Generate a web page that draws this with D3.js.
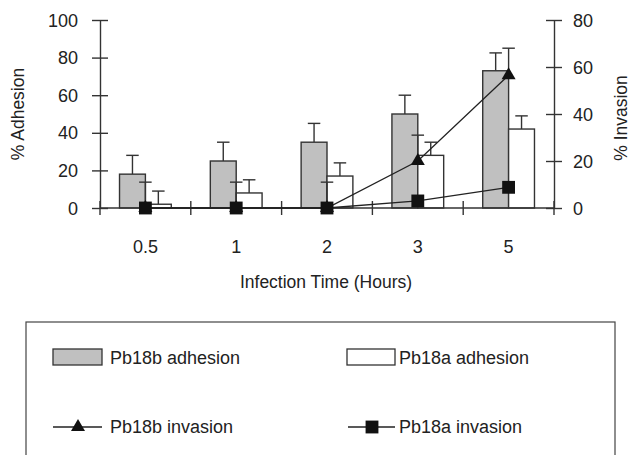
<!DOCTYPE html>
<html>
<head>
<meta charset="utf-8">
<script src="https://cdn.jsdelivr.net/npm/d3@7"></script>
<style>
  html, body { margin: 0; padding: 0; background: #fff; }
  svg { display: block; }
  text { font-family: "Liberation Sans", Arial, sans-serif; fill: #222; }
</style>
</head>
<body>
<svg id="chart" width="632" height="455"></svg>
<script>
const categories = ["0.5", "1", "2", "3", "5"];
const pb18bAdhesion = [18, 25, 35, 50, 73];
const pb18bAdhesionErr = [10, 10, 10, 10, 9.5];
const pb18aAdhesion = [2, 8, 17, 28, 42];
const pb18aAdhesionErr = [7, 7, 7, 7, 7];
const pb18bInvasion = [0, 0, 0, 20, 56.5];
const pb18bInvasionErr = [11, 11, 11, 11, 11.5];
const pb18aInvasion = [0, 0, 0, 3, 8.8];
const leftTicks = [0, 20, 40, 60, 80, 100];
const rightTicks = [0, 20, 40, 60, 80];

(function () {
const svg = d3.select("#chart");
const ink = "#333";
const pLeft = 100, pRight = 554, pTop = 20, pBottom = 208;

const x = d3.scaleBand().domain(categories).range([pLeft, pRight]).padding(0);
const yL = d3.scaleLinear().domain([0, 100]).range([pBottom, pTop]);
const yR = d3.scaleLinear().domain([0, 80]).range([pBottom, pTop]);
const bw = x.bandwidth() * 0.285;
const cx = c => x(c) + x.bandwidth() / 2;
const capW = 12.5;

// Bars
const g = svg.append("g");
function errBar(xc, y0, y1) {
  g.append("line").attr("x1", xc).attr("x2", xc).attr("y1", y0).attr("y2", y1)
    .attr("stroke", ink).attr("stroke-width", 1.4);
  g.append("line").attr("x1", xc - capW / 2).attr("x2", xc + capW / 2).attr("y1", y1).attr("y2", y1)
    .attr("stroke", ink).attr("stroke-width", 1.4);
}
categories.forEach((c, i) => {
  errBar(cx(c) - bw / 2, yL(pb18bAdhesion[i]), yL(pb18bAdhesion[i] + pb18bAdhesionErr[i]));
  g.append("rect").attr("x", cx(c) - bw).attr("y", yL(pb18bAdhesion[i]))
    .attr("width", bw).attr("height", yL(0) - yL(pb18bAdhesion[i]))
    .attr("fill", "#c0c0c0").attr("stroke", ink).attr("stroke-width", 1.4);
  errBar(cx(c) + bw / 2, yL(pb18aAdhesion[i]), yL(pb18aAdhesion[i] + pb18aAdhesionErr[i]));
  g.append("rect").attr("x", cx(c)).attr("y", yL(pb18aAdhesion[i]))
    .attr("width", bw).attr("height", yL(0) - yL(pb18aAdhesion[i]))
    .attr("fill", "#fff").attr("stroke", ink).attr("stroke-width", 1.4);
});

// Axes
function styleAxis(sel) {
  sel.selectAll(".tick line").attr("stroke", ink).attr("stroke-width", 1.4);
  sel.select(".domain").attr("stroke", ink).attr("stroke-width", 1.4);
  sel.selectAll("text").style("font-size", "18px").attr("fill", "#222");
}
const axL = svg.append("g").attr("transform", `translate(${pLeft},0)`)
  .call(d3.axisLeft(yL).tickValues(leftTicks).tickSize(8).tickPadding(14).tickSizeOuter(0));
axL.selectAll(".tick line").attr("x1", -8).attr("x2", 8);
styleAxis(axL);
axL.selectAll("text").attr("dy", "0.34em");

const axR = svg.append("g").attr("transform", `translate(${pRight},0)`)
  .call(d3.axisRight(yR).tickValues(rightTicks).tickSize(8).tickPadding(11).tickSizeOuter(0));
axR.selectAll(".tick line").attr("x1", -8).attr("x2", 8);
styleAxis(axR);
axR.selectAll("text").attr("dy", "0.34em");

const axX = svg.append("g").attr("transform", `translate(0,${pBottom})`);
axX.append("line").attr("x1", pLeft).attr("x2", pRight).attr("y1", 0).attr("y2", 0)
  .attr("stroke", ink).attr("stroke-width", 1.4);
const bounds = categories.map(c => x(c)).concat([pRight]);
axX.selectAll(".xt").data(bounds).enter().append("line")
  .attr("x1", d => d).attr("x2", d => d).attr("y1", -7).attr("y2", 7)
  .attr("stroke", ink).attr("stroke-width", 1.4);
axX.selectAll(".xl").data(categories).enter().append("text")
  .attr("x", d => cx(d)).attr("y", 45).attr("text-anchor", "middle")
  .style("font-size", "18px").text(d => d);

// Invasion lines
const line = d3.line().x((d, i) => cx(categories[i])).y(d => yR(d));
categories.forEach((c, i) => {
  const y0 = yR(pb18bInvasion[i]), y1 = yR(pb18bInvasion[i] + pb18bInvasionErr[i]);
  svg.append("line").attr("x1", cx(c)).attr("x2", cx(c)).attr("y1", y0).attr("y2", y1)
    .attr("stroke", ink).attr("stroke-width", 1.4);
  svg.append("line").attr("x1", cx(c) - capW / 2).attr("x2", cx(c) + capW / 2).attr("y1", y1).attr("y2", y1)
    .attr("stroke", ink).attr("stroke-width", 1.4);
});
svg.append("path").datum(pb18bInvasion).attr("d", line)
  .attr("fill", "none").attr("stroke", "#222").attr("stroke-width", 1.3);
svg.append("path").datum(pb18aInvasion).attr("d", line)
  .attr("fill", "none").attr("stroke", "#222").attr("stroke-width", 1.3);
const tri = d3.symbol().type(d3.symbolTriangle).size(85);
const sq = d3.symbol().type(d3.symbolSquare).size(165);
svg.selectAll(".tri").data(pb18bInvasion).enter().append("path")
  .attr("d", tri).attr("transform", (d, i) => `translate(${cx(categories[i])},${yR(d)})`)
  .attr("fill", "#111");
svg.selectAll(".sq").data(pb18aInvasion).enter().append("path")
  .attr("d", sq).attr("transform", (d, i) => `translate(${cx(categories[i])},${yR(d)})`)
  .attr("fill", "#111");

// Axis titles
svg.append("text").attr("transform", "translate(24,114) rotate(-90)")
  .attr("text-anchor", "middle").style("font-size", "17.5px").text("% Adhesion");
svg.append("text").attr("transform", "translate(627,118) rotate(-90)")
  .attr("text-anchor", "middle").style("font-size", "17.5px").text("% Invasion");
svg.append("text").attr("x", 326).attr("y", 288).attr("text-anchor", "middle")
  .style("font-size", "17.5px").text("Infection Time (Hours)");

// Legend
const lg = svg.append("g");
lg.append("rect").attr("x", 26).attr("y", 322).attr("width", 589).attr("height", 160)
  .attr("fill", "none").attr("stroke", "#444").attr("stroke-width", 1.2);
lg.append("rect").attr("x", 53).attr("y", 349).attr("width", 49).attr("height", 16)
  .attr("fill", "#c0c0c0").attr("stroke", ink).attr("stroke-width", 1.3);
lg.append("text").attr("x", 110).attr("y", 364).style("font-size", "18px").text("Pb18b adhesion");
lg.append("rect").attr("x", 347).attr("y", 349).attr("width", 48).attr("height", 16)
  .attr("fill", "#fff").attr("stroke", ink).attr("stroke-width", 1.3);
lg.append("text").attr("x", 399).attr("y", 364).style("font-size", "18px").text("Pb18a adhesion");
lg.append("line").attr("x1", 53).attr("x2", 102).attr("y1", 427).attr("y2", 427)
  .attr("stroke", "#222").attr("stroke-width", 1.3);
lg.append("path").attr("d", tri).attr("transform", "translate(78,427)").attr("fill", "#111");
lg.append("text").attr("x", 110).attr("y", 433).style("font-size", "18px").text("Pb18b invasion");
lg.append("line").attr("x1", 348).attr("x2", 395).attr("y1", 427).attr("y2", 427)
  .attr("stroke", "#222").attr("stroke-width", 1.3);
lg.append("path").attr("d", sq).attr("transform", "translate(372,427)").attr("fill", "#111");
lg.append("text").attr("x", 399).attr("y", 433).style("font-size", "18px").text("Pb18a invasion");
})();
</script>
</body>
</html>
